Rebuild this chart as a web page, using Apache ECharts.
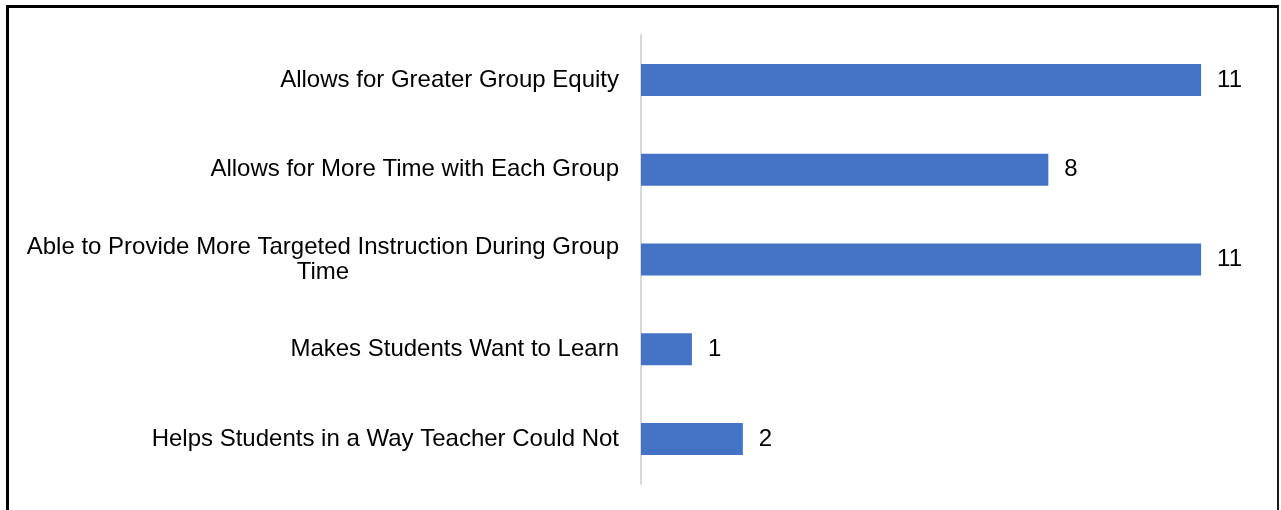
<!DOCTYPE html>
<html>
<head>
<meta charset="utf-8">
<script src="https://cdn.jsdelivr.net/npm/echarts@6/dist/echarts.min.js"></script>
<style>
  html, body { margin: 0; padding: 0; background: #fff; }
  #root { width: 1281px; height: 510px; }
  #frame {
    position: absolute; left: 6px; top: 5px; width: 1268px; height: 520px;
    border-top: 3px solid #000; border-left: 3px solid #000; border-right: 2px solid #1a1a1a;
    pointer-events: none;
  }
</style>
</head>
<body>
<div id="root"></div>
<div id="frame"></div>
<script>
// categories, top to bottom
var categories = [
  'Allows for Greater Group Equity',
  'Allows for More Time with Each Group',
  'Able to Provide More Targeted Instruction During Group\nTime',
  'Makes Students Want to Learn',
  'Helps Students in a Way Teacher Could Not'
];
var counts = [11, 8, 11, 1, 2];

var dom = document.getElementById('root');
var myChart = echarts.init(dom, null, { renderer: 'canvas' });

var option = {
  animation: false,
  textStyle: { fontFamily: 'Liberation Sans, Arial, sans-serif' },
  grid: { left: 641, top: 35, width: 611, height: 449, containLabel: false },
  xAxis: {
    type: 'value', min: 0, max: 12,
    show: false
  },
  yAxis: {
    type: 'category',
    data: categories,
    inverse: true,
    axisLine: { lineStyle: { color: '#d9d9d9', width: 2 } },
    axisTick: { show: false },
    axisLabel: {
      margin: 22,
      fontSize: 24,
      color: '#000',
      lineHeight: 25,
      formatter: function (v) {
        if (v.indexOf('\n') < 0) return v;
        return v.split('\n').map(function (s) { return '{c|' + s + '}'; }).join('\n');
      },
      rich: {
        c: { align: 'center', fontSize: 24, lineHeight: 25, color: '#000' }
      }
    }
  },
  series: [{
    type: 'bar',
    data: counts,
    barWidth: 32,
    itemStyle: { color: '#4472C4' },
    label: {
      show: true,
      position: 'right',
      distance: 16,
      fontSize: 24,
      color: '#000'
    }
  }]
};

myChart.setOption(option);
</script>
</body>
</html>
